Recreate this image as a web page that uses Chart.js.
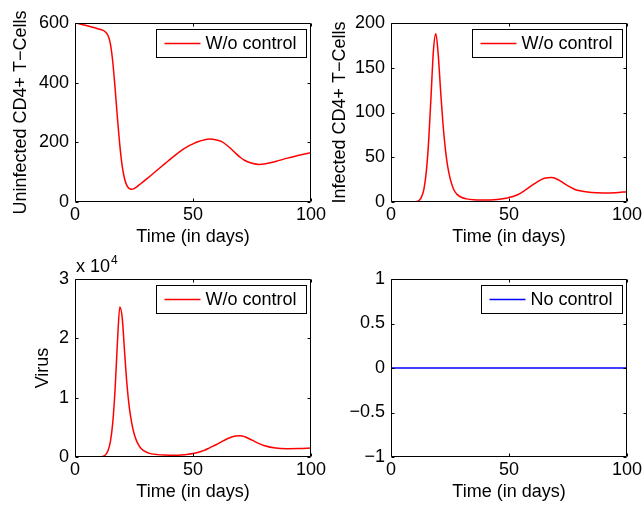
<!DOCTYPE html>
<html><head><meta charset="utf-8">
<script src="https://cdn.jsdelivr.net/npm/chart.js@4.4.1/dist/chart.umd.min.js"></script>
<style>
html,body{margin:0;padding:0;background:#fff;}
#wrap{position:relative;width:644px;height:510px;overflow:hidden;background:#fff;}
canvas{position:absolute;left:0;top:0;}
</style></head><body>
<div id="wrap">
<canvas id="c1" width="644" height="510"></canvas>
<canvas id="c2" width="644" height="510"></canvas>
<canvas id="c3" width="644" height="510"></canvas>
<canvas id="c4" width="644" height="510"></canvas>
</div>
<script>
// ---- data ----
const days = [0,2,4,6,8,10,11,12,13,14,15,16,17,18,19,20,21,22,23,24,25,26,27,28,30,32,35,38,40,42,45,48,50,52,55,57,60,62,65,68,70,72,75,78,80,85,90,95,100];
const uninfected = [600,597,593,589,585,580,578,575,569,558,530,470,380,280,190,120,78,55,45,43,45,50,56,62,75,88,108,128,141,154,172,187,195,202,209,211,208,203,186,164,150,139,130,126,127,136,147,157,165];
const infected = [0,0,0,0,0,0,0.5,2,6,15,35,70,120,170,188,165,125,88,60,40,27,18,12,8.5,5,3.5,2.5,2.2,2.2,2.3,2.8,3.8,5,6.5,10,13.5,19,22.5,26.5,27.5,26,23,18,14,12.5,10.5,10,10.3,11.5];
const virus = [0,0,0,0,0,0,30,120,400,1100,2600,5800,11500,19500,25300,23500,17800,12300,8400,5800,4000,2800,2000,1450,850,570,400,330,310,310,350,460,580,760,1150,1550,2100,2550,3150,3550,3600,3400,2850,2250,1950,1500,1400,1420,1520];
const controlDays = [0, 100];
const noControl = [0, 0];

const xTicks = [0, 50, 100];
const yTicksUninf = [0, 200, 400, 600];
const yTicksInf = [0, 50, 100, 150, 200];
const yTicksVirus = [0, 10000, 20000, 30000];
const yTicksControl = [-1, -0.5, 0, 0.5, 1];

const xTitle = 'Time (in days)';
const FONT = '"Liberation Sans", Arial, Helvetica, sans-serif';
Chart.defaults.font.family = FONT;
Chart.defaults.color = '#000';

function pts(xs, ys){ return xs.map((x,i)=>({x:x, y:ys[i]})); }

const boxPlugin = {
  id: 'matlabBox',
  afterDraw(chart){
    const ctx = chart.ctx, ca = chart.chartArea;
    const xs = chart.scales.x, ys = chart.scales.y;
    ctx.save();
    ctx.strokeStyle = '#000';
    ctx.lineWidth = 1;
    const l = Math.round(ca.left)+0.5, r = Math.round(ca.right)-0.5, t = Math.round(ca.top)+0.5, b = Math.round(ca.bottom)-0.5;
    ctx.beginPath();
    ctx.rect(l, t, r-l, b-t);
    ctx.stroke();
    const tl = 3;
    ctx.beginPath();
    xs.ticks.forEach(tk=>{
      const p = Math.round(xs.getPixelForValue(tk.value))+0.5;
      ctx.moveTo(p, b); ctx.lineTo(p, b-tl);
      ctx.moveTo(p, t); ctx.lineTo(p, t+tl);
    });
    ys.ticks.forEach(tk=>{
      const p = Math.round(ys.getPixelForValue(tk.value))+0.5;
      ctx.moveTo(l, p); ctx.lineTo(l+tl, p);
      ctx.moveTo(r, p); ctx.lineTo(r-tl, p);
    });
    ctx.stroke();
    // legend box
    const ds = chart.data.datasets[0];
    ctx.font = '18px ' + FONT;
    const tw = ctx.measureText(ds.label).width;
    const bw = Math.round(8 + 36 + 5 + tw + 10), bh = 28;
    const bx = Math.round(ca.right - 5 - bw) + 0.5, by = Math.round(ca.top + 6) + 0.5;
    ctx.fillStyle = '#fff';
    ctx.fillRect(bx, by, bw, bh);
    ctx.strokeRect(bx, by, bw, bh);
    const cy = by + bh/2;
    ctx.beginPath();
    ctx.strokeStyle = ds.borderColor;
    ctx.lineWidth = 1.5;
    ctx.moveTo(bx + 8, cy); ctx.lineTo(bx + 44, cy);
    ctx.stroke();
    ctx.fillStyle = '#000';
    ctx.textBaseline = 'middle';
    ctx.textAlign = 'left';
    ctx.fillText(ds.label, bx + 49, cy + 1);
    // exponent label
    const exp = chart.options.plugins.matlabBox && chart.options.plugins.matlabBox.exponent;
    if (exp) {
      ctx.textBaseline = 'alphabetic';
      ctx.font = '18px ' + FONT;
      const base = 'x 10';
      ctx.fillText(base, ca.left + 1, ca.top - 7);
      const w = ctx.measureText(base).width;
      ctx.font = '12px ' + FONT;
      ctx.fillText(exp, ca.left + 1 + w + 1, ca.top - 15);
    }
    ctx.restore();
  }
};

const X_AXIS_H = 46;

function makeChart(id, opt){
  const padLeft = opt.titleCenter - 10.8;
  const xBottom = opt.B + X_AXIS_H;
  new Chart(document.getElementById(id), {
    type: 'line',
    data: { datasets: [{
      label: opt.label,
      data: pts(opt.xs, opt.ys),
      borderColor: opt.color,
      borderWidth: 1.5,
      pointRadius: 0,
      fill: false,
      cubicInterpolationMode: 'monotone'
    }]},
    options: {
      responsive: false,
      animation: false,
      devicePixelRatio: 1,
      events: [],
      layout: { padding: { left: padLeft, top: opt.T, right: 644 - opt.R, bottom: 510 - xBottom } },
      plugins: { legend: { display: false }, tooltip: { enabled: false }, matlabBox: { exponent: opt.exponent || null } },
      scales: {
        x: {
          type: 'linear', min: 0, max: 100,
          afterBuildTicks: s => { s.ticks = xTicks.map(v => ({value: v})); },
          afterFit: s => { s.height = X_AXIS_H; },
          grid: { display: false, drawTicks: false },
          border: { display: false },
          ticks: { padding: 0, maxRotation: 0, font: { size: 18, lineHeight: 1.5 }, color: '#000' },
          title: { display: true, text: xTitle, padding: 0, font: { size: 18, lineHeight: 1.2 }, color: '#000' }
        },
        y: {
          type: 'linear', min: opt.ymin, max: opt.ymax,
          afterBuildTicks: s => { s.ticks = opt.yTicks.map(v => ({value: v})); },
          afterFit: s => { s.width = opt.L - padLeft; },
          grid: { display: false, drawTicks: false },
          border: { display: false },
          ticks: { padding: 6, font: { size: 18, lineHeight: 1 }, color: '#000', callback: opt.fmt },
          title: { display: !!opt.ytitle, text: opt.ytitle || '', padding: 0, font: { size: 18, lineHeight: 1.2 }, color: '#000' }
        }
      }
    },
    plugins: [boxPlugin]
  });
}

const minusFmt = v => String(v).replace('-', '\u2212');

makeChart('c1', { L:75, R:311, T:23, B:202, titleCenter:21.5, label:'W/o control', color:'#ff0000',
  xs: days, ys: uninfected, ymin:0, ymax:600, yTicks: yTicksUninf, ytitle:'Uninfected CD4+ T\u2212Cells', fmt: minusFmt });
makeChart('c2', { L:391, R:627, T:23, B:202, titleCenter:340.5, label:'W/o control', color:'#ff0000',
  xs: days, ys: infected, ymin:0, ymax:200, yTicks: yTicksInf, ytitle:'Infected CD4+ T\u2212Cells', fmt: minusFmt });
makeChart('c3', { L:75, R:311, T:279, B:457, titleCenter:43.5, label:'W/o control', color:'#ff0000',
  xs: days, ys: virus, ymin:0, ymax:30000, yTicks: yTicksVirus, ytitle:'Virus', exponent:'4', fmt: v => String(v/10000) });
makeChart('c4', { L:391, R:627, T:279, B:457, titleCenter:340.5, label:'No control', color:'#0000ff',
  xs: controlDays, ys: noControl, ymin:-1, ymax:1, yTicks: yTicksControl, ytitle:'', fmt: minusFmt });
</script>
</body></html>
